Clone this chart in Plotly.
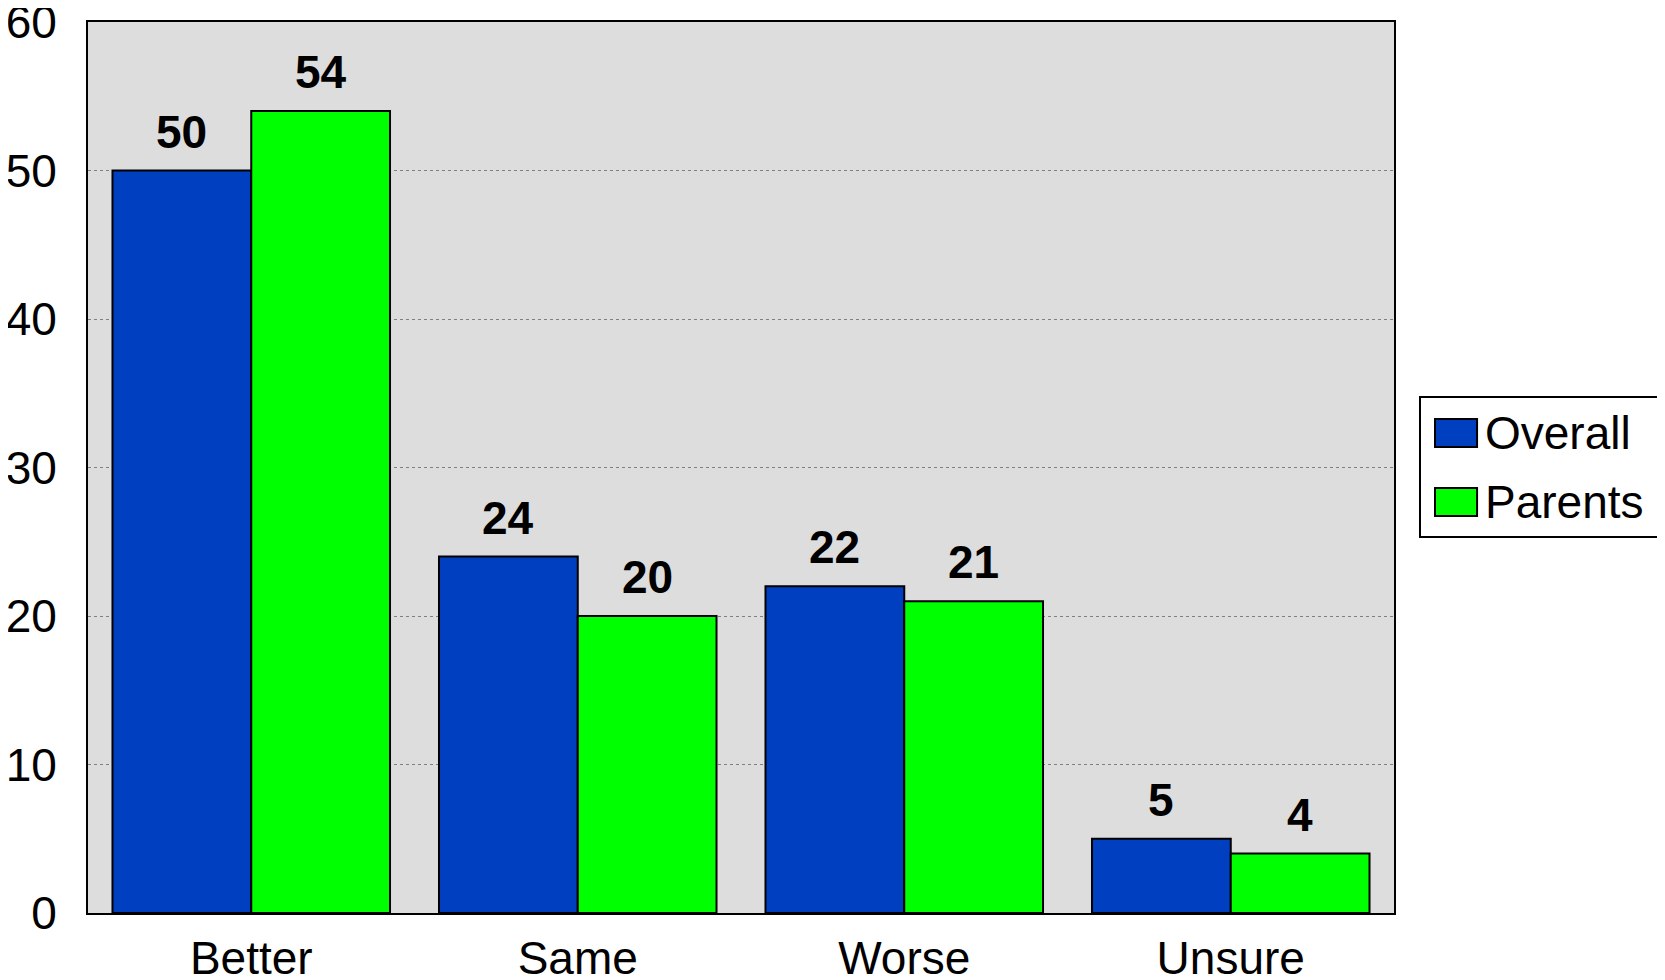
import plotly.graph_objects as go

categories = ["Better", "Same", "Worse", "Unsure"]
series_names = ["Overall", "Parents"]
overall = [50, 24, 22, 5]
parents = [54, 20, 21, 4]
series_values = [overall, parents]
colors = ["#0040C0", "#00FF00"]
y_ticks = [0, 10, 20, 30, 40, 50, 60]

FONT = "Arial, Liberation Sans, sans-serif"
W, H = 1665, 980
ML, MR, MT, MB = 80, 279, 14, 75
BARGAP = 0.15

fig = go.Figure()
for name, vals, col in zip(series_names, series_values, colors):
    fig.add_trace(go.Bar(
        x=categories, y=vals, name=name,
        marker=dict(color=col, line=dict(color="black", width=2)),
        showlegend=False,
    ))

# data labels above bars
plot_w = W - ML - MR
bar_w = plot_w / len(categories) * (1 - BARGAP) / len(series_names)
for i, vals in enumerate(series_values):
    shift = (i - (len(series_names) - 1) / 2) * bar_w
    for c, v in zip(categories, vals):
        fig.add_annotation(
            x=c, y=v, xref="x", yref="y", text=str(v), showarrow=False,
            xshift=shift, yanchor="bottom", yshift=11,
            font=dict(family=FONT, size=46, color="black", weight="bold"),
        )

# manual legend
fig.add_shape(type="rect", xref="paper", yref="paper",
              x0=1.0199, x1=1.2062, y0=0.422, y1=0.579,
              line=dict(color="black", width=2), fillcolor="white")
legend_rows = [(0.5544, 0.5230), (0.4770, 0.4456)]
for (y1, y0), name, col in zip(legend_rows, series_names, colors):
    fig.add_shape(type="rect", xref="paper", yref="paper",
                  x0=1.0314, x1=1.0636, y0=y0, y1=y1,
                  line=dict(color="black", width=2), fillcolor=col)
    fig.add_annotation(x=1.0680, y=(y0 + y1) / 2, xref="paper", yref="paper",
                       text=name, showarrow=False, xanchor="left", yanchor="middle",
                       font=dict(family=FONT, size=46, color="black"))

fig.update_layout(
    width=W, height=H,
    margin=dict(l=ML, r=MR, t=MT, b=MB, pad=0, autoexpand=False),
    barmode="group", bargap=BARGAP, bargroupgap=0,
    plot_bgcolor="#DDDDDD", paper_bgcolor="white",
    font=dict(family=FONT, color="black", size=46),
    showlegend=False,
)
fig.update_xaxes(
    showline=True, linecolor="black", linewidth=2, mirror=True,
    ticks="", tickfont=dict(size=46, family=FONT, color="black"),
    ticklabelstandoff=4, automargin=False, ticklabeloverflow="allow",
)
fig.update_yaxes(
    range=[0, 60], tickvals=y_ticks,
    showline=True, linecolor="black", linewidth=2, mirror=True,
    showgrid=True, gridcolor="#808080", gridwidth=1, griddash="dot",
    zeroline=False, ticks="", tickfont=dict(size=46, family=FONT, color="black"),
    ticklabelstandoff=20, automargin=False, ticklabeloverflow="allow",
)

fig.write_html("out.html")
